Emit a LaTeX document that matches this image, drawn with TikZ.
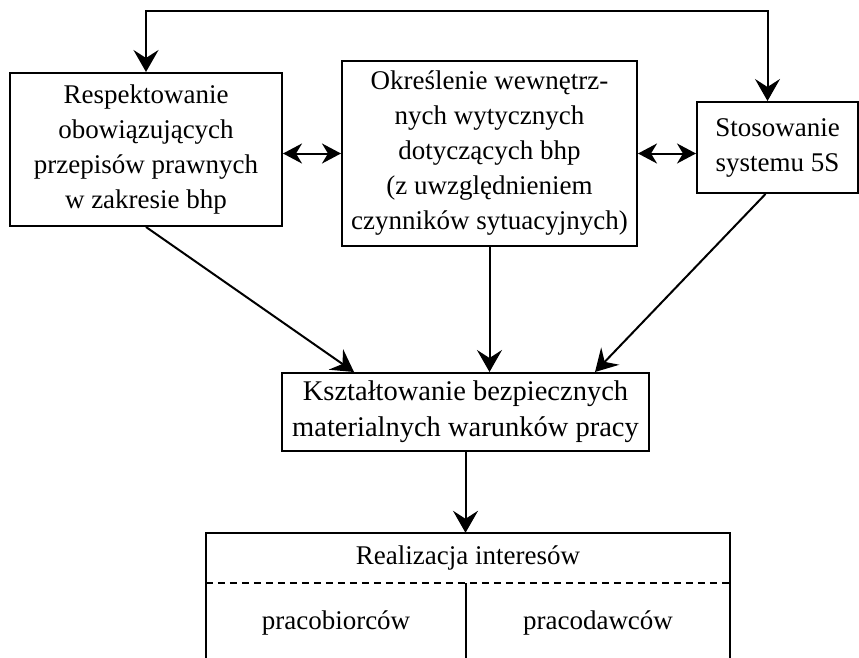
\documentclass[tikz,border=0pt]{standalone}
\usepackage{fontspec}
\setmainfont{Liberation Serif}
\usetikzlibrary{arrows.meta}
\begin{document}
\begin{tikzpicture}[x=1pt,y=-1pt,
  box/.style={draw,line width=2pt,align=center,inner sep=0pt,font=\fontsize{27}{35}\selectfont},
  txt/.style={align=center,inner sep=0pt,font=\fontsize{27}{35}\selectfont},
  arr/.style={line width=2pt,-{Stealth[length=22pt,width=25pt,inset=8pt]}},
  darr/.style={line width=2pt,{Stealth[length=22pt,width=25pt,inset=8pt]}-{Stealth[length=22pt,width=25pt,inset=8pt]}},
  sarr/.style={line width=2pt,{Stealth[length=19pt,width=20pt,inset=6pt]}-{Stealth[length=19pt,width=20pt,inset=6pt]}}]
\useasboundingbox (0,0) rectangle (859,658);
\node[box,minimum width=272pt,minimum height=153pt] (L) at (146,149.5)
  {Respektowanie\\obowiązujących\\przepisów prawnych\\w zakresie bhp};
\node[box,minimum width=295pt,minimum height=185pt] (M) at (489.5,153.5)
  {Określenie wewnętrz-\\nych wytycznych\\dotyczących bhp\\(z uwzględnieniem\\czynników sytuacyjnych)};
\node[box,minimum width=161pt,minimum height=91pt] (R) at (777.5,147.5)
  {Stosowanie\\systemu 5S};
\node[box,minimum width=367pt,minimum height=78pt,font=\fontsize{28.5}{36}\selectfont] (C) at (465.5,412)
  {Kształtowanie bezpiecznych\\materialnych warunków pracy};
\node[txt,minimum width=524pt,minimum height=50pt] (B) at (468,558) {Realizacja interesów};
\node[txt] (B1) at (336,623) {pracobiorców};
\node[txt] (B2) at (598,623) {pracodawców};
\coordinate (Rtop) at ([xshift=-10pt]R.north);
\coordinate (Rbot) at ([xshift=-12pt]R.south);
\coordinate (Cl) at ([xshift=73pt]C.north west);
\coordinate (Cr) at ([xshift=-55pt]C.north east);
\coordinate (Bbl) at (206,658);
\coordinate (Bbr) at (730,658);
\coordinate (Bmid) at (466,658);
% loop on top
\draw[darr] (L.north) -- ++(0,-61) -| (Rtop);
% double arrows
\draw[sarr] (M.west -| L.east) -- (M.west);
\draw[sarr] (M.east) -- (M.east -| R.west);
% arrows to C
\draw[arr] (L.south) -- (Cl);
\draw[arr] (M.south) -- (M.south |- C.north);
\draw[arr] (Rbot) -- (Cr);
\draw[arr] (C.south) -- (C.south |- B.north);
% bottom box
\draw[line width=2pt] (Bbl) |- (B.north) -| (Bbr);
\draw[line width=1.8pt,dash pattern=on 7pt off 5pt] (B.south west) -- (B.south east);
\draw[line width=2pt] (B.south -| Bmid) -- (Bmid);
\end{tikzpicture}
\end{document}
